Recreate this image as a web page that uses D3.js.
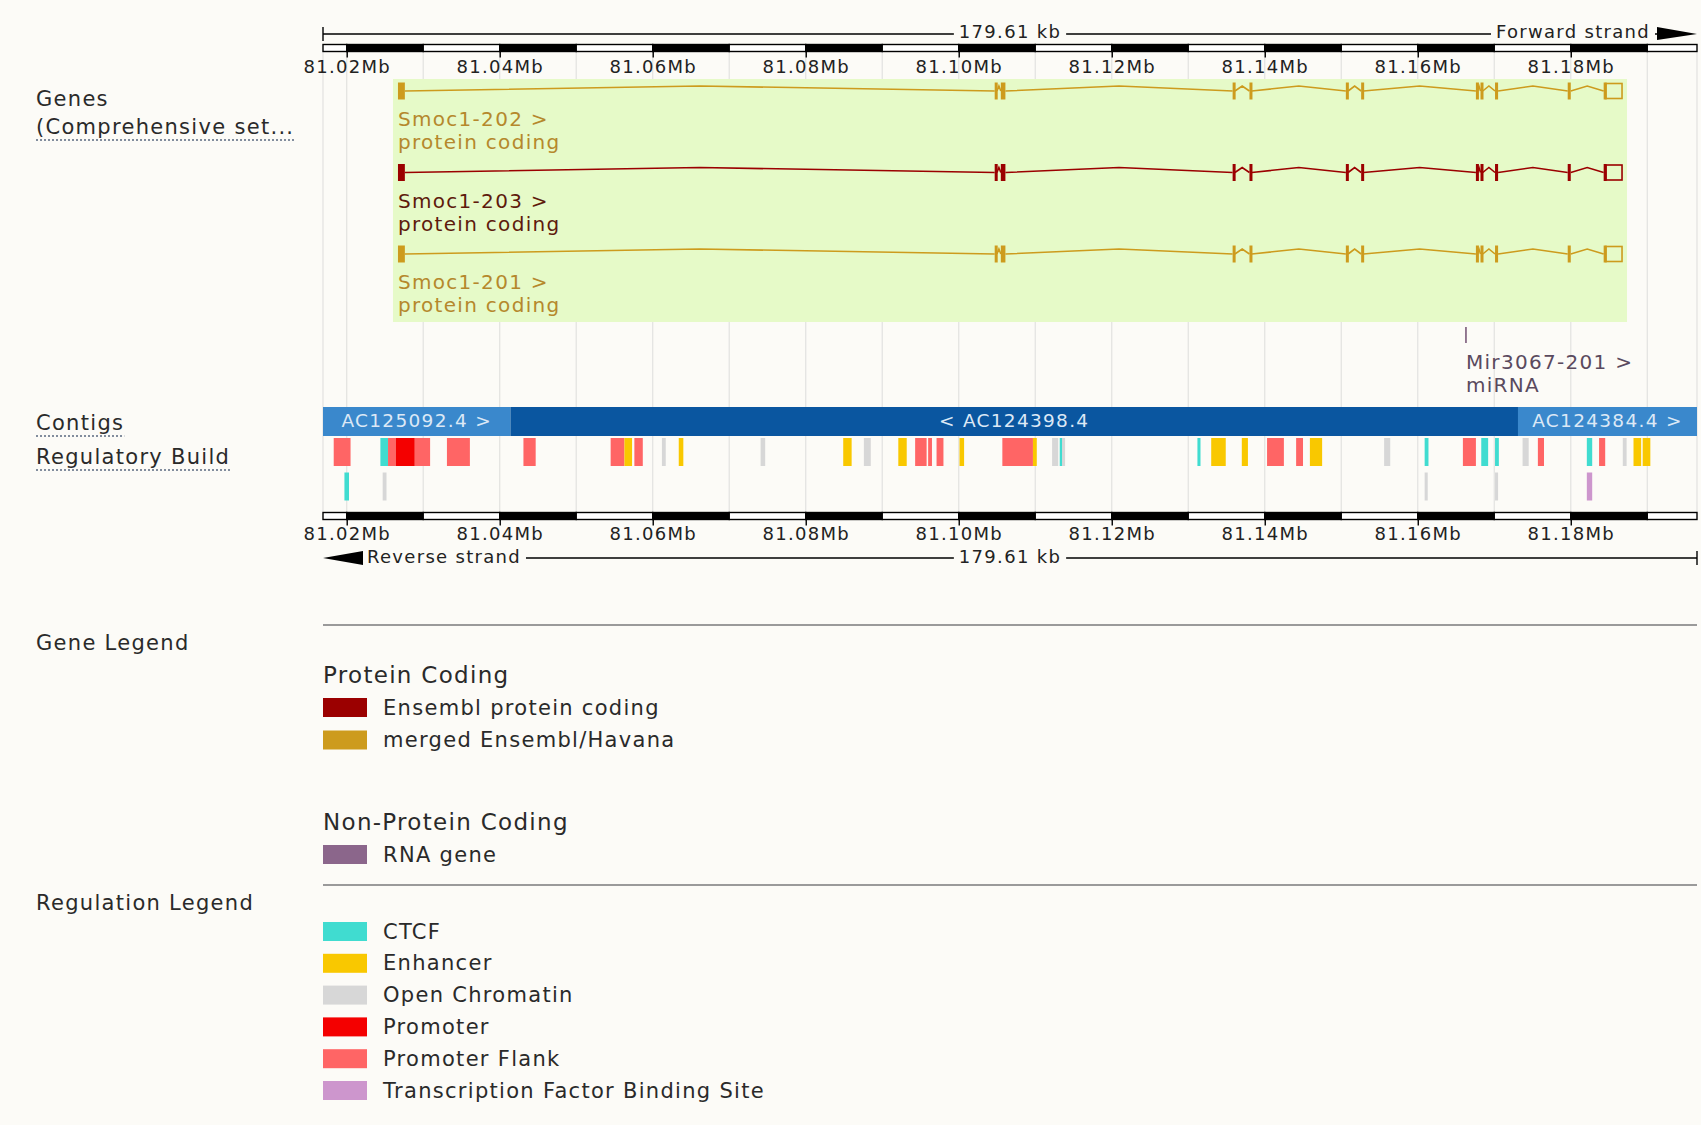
<!DOCTYPE html>
<html>
<head>
<meta charset="utf-8">
<title>Smoc1 region view</title>
<script src="https://cdn.jsdelivr.net/npm/d3@7"></script>
<style>
body{margin:0;background:#fcfbf7;}
svg{display:block;font-family:"DejaVu Sans",Verdana,sans-serif;}
text{letter-spacing:1.3px;}
</style>
</head>
<body>
<div id="chart"></div>
<script>
var W=1701,H=1125;

// region shown (Mb) and ruler ticks
var regionStart=81.0169, regionEnd=81.1965;
var tickMb=[81.02,81.04,81.06,81.08,81.10,81.12,81.14,81.16,81.18];
var lengthLabel="179.61 kb";

// transcripts (all three share the same exon layout)
var transcriptNames=["Smoc1-202","Smoc1-203","Smoc1-201"];
var transcriptBiotype=["protein coding","protein coding","protein coding"];
var transcriptSource=["merged","ensembl","merged"];
var codingExons=[[81.0267,81.0276],[81.1047,81.1050],[81.1055,81.1061],[81.1358,81.1361],
  [81.1380,81.1383],[81.1506,81.1509],[81.1526,81.1529],[81.1676,81.1678],[81.1682,81.1685],
  [81.1701,81.1705],[81.1796,81.1800],[81.1843,81.1846]];
var utrExons=[[81.1846,81.1867]];

var rnaGeneName="Mir3067-201 >", rnaGeneType="miRNA", rnaGeneMb=81.1663;

// contigs
var contigNames=["AC125092.4 >","< AC124398.4","AC124384.4 >"];
var contigStart=[81.0169,81.0414,81.1731];
var contigEnd=[81.0414,81.1731,81.1965];

// regulatory build, [start, end, type]
var regRow1=[
  [81.0183,81.0205,"Promoter Flank"],[81.0244,81.0254,"CTCF"],[81.0254,81.0264,"Promoter Flank"],
  [81.0264,81.0289,"Promoter"],[81.0289,81.0309,"Promoter Flank"],[81.0331,81.0361,"Promoter Flank"],
  [81.0431,81.0447,"Promoter Flank"],[81.0545,81.0563,"Promoter Flank"],[81.0563,81.0573,"Enhancer"],
  [81.0576,81.0587,"Promoter Flank"],[81.0612,81.0617,"Open Chromatin"],[81.0634,81.0640,"Enhancer"],
  [81.0741,81.0747,"Open Chromatin"],[81.0849,81.0860,"Enhancer"],[81.0876,81.0885,"Open Chromatin"],
  [81.0921,81.0932,"Enhancer"],[81.0943,81.0958,"Promoter Flank"],[81.0960,81.0965,"Promoter Flank"],
  [81.0971,81.0980,"Promoter Flank"],[81.1001,81.1007,"Enhancer"],[81.1057,81.1097,"Promoter Flank"],
  [81.1097,81.1102,"Enhancer"],[81.1122,81.1130,"Open Chromatin"],[81.1132,81.1134,"CTCF"],
  [81.1135,81.1139,"Open Chromatin"],[81.1312,81.1316,"CTCF"],[81.1330,81.1349,"Enhancer"],
  [81.1370,81.1378,"Enhancer"],[81.1403,81.1425,"Promoter Flank"],[81.1441,81.1450,"Promoter Flank"],
  [81.1459,81.1475,"Enhancer"],[81.1556,81.1564,"Open Chromatin"],[81.1609,81.1614,"CTCF"],
  [81.1659,81.1676,"Promoter Flank"],[81.1683,81.1692,"CTCF"],[81.1701,81.1706,"CTCF"],
  [81.1737,81.1745,"Open Chromatin"],[81.1757,81.1765,"Promoter Flank"],[81.1821,81.1828,"CTCF"],
  [81.1837,81.1845,"Promoter Flank"],[81.1868,81.1873,"Open Chromatin"],[81.1882,81.1892,"Enhancer"],
  [81.1894,81.1904,"Enhancer"]
];
var regRow2=[
  [81.0197,81.0203,"CTCF"],[81.0247,81.0252,"Open Chromatin"],[81.1609,81.1613,"Open Chromatin"],
  [81.1701,81.1705,"Open Chromatin"],[81.1821,81.1828,"Transcription Factor Binding Site"]
];

// legends
var proteinLegend=["Ensembl protein coding","merged Ensembl/Havana"];
var proteinLegendColor=["#9b0000","#cd9b1d"];
var nonProteinLegend=["RNA gene"];
var nonProteinLegendColor=["#8b668b"];
var regTypes=["CTCF","Enhancer","Open Chromatin","Promoter","Promoter Flank","Transcription Factor Binding Site"];
var regColors=["#40dcd0","#f9c800","#d7d7d7","#f40000","#ff6565","#cd96cd"];

var sourceColor={merged:"#cd9b1d",ensembl:"#9b0000"};
var labelColor={merged:"#b5882c",ensembl:"#5e1a0c"};
var regColor=d3.scaleOrdinal().domain(regTypes).range(regColors);

var bg="#fcfbf7", left=323, right=1697;

var x=d3.scaleLinear().domain([regionStart,regionEnd]).range([left,right]);

var svg=d3.select('#chart').append('svg')
  .attr('width',W).attr('height',H);
svg.append('rect').attr('width',W).attr('height',H).attr('fill',bg);

// helper: text with a background knock-out
function gapText(g,tx,ty,str,anchor,size){
  var t=g.append('text').attr('x',tx).attr('y',ty).attr('text-anchor',anchor)
    .attr('dominant-baseline','central').attr('font-size',size).attr('fill','#222').text(str);
  var b=t.node().getBBox();
  g.insert('rect','text').attr('x',b.x-5).attr('y',b.y).attr('width',b.width+10)
    .attr('height',b.height).attr('fill',bg);
  return t;
}

// grid
var minor=d3.ticks(regionStart,regionEnd,18);
svg.append('g').selectAll('line').data(minor.concat([regionStart,regionEnd])).enter()
  .append('line')
  .attr('x1',function(d){return x(d);}).attr('x2',function(d){return x(d);})
  .attr('y1',52).attr('y2',512)
  .attr('stroke','#e2e2e0').attr('stroke-width',1.2);

// ruler bar
function ruler(y0,labelY){
  var g=svg.append('g');
  var bounds=[regionStart].concat(minor).concat([regionEnd]);
  for(var i=0;i<bounds.length-1;i++){
    var a=bounds[i],b=bounds[i+1];
    var black=(Math.round(a*100)%2===0)&&a>regionStart;
    g.append('rect').attr('x',x(a)).attr('y',y0).attr('width',x(b)-x(a)).attr('height',7)
      .attr('fill',black?'#000':'#fff').attr('stroke','#000').attr('stroke-width',1.4);
  }
  var ax=d3.axisBottom(x).tickValues(tickMb).tickSize(6).tickSizeOuter(0)
    .tickFormat(function(d){return d.toFixed(2)+'Mb';});
  var ag=svg.append('g').attr('transform','translate(0,'+(y0+7)+')').call(ax);
  ag.select('.domain').remove();
  ag.selectAll('.tick line').attr('stroke','#000').attr('stroke-width',1.4);
  ag.selectAll('.tick text').attr('y',labelY-(y0+7)).attr('dy',null)
    .attr('dominant-baseline','central')
    .attr('font-family','"DejaVu Sans",Verdana,sans-serif').attr('font-size',18).attr('fill','#222');
}
ruler(44.5,66);
ruler(512.5,533);

// top scale line
var topG=svg.append('g');
topG.append('line').attr('x1',left).attr('x2',right-40).attr('y1',34).attr('y2',34).attr('stroke','#000').attr('stroke-width',1.4);
topG.append('line').attr('x1',left).attr('x2',left).attr('y1',27).attr('y2',41).attr('stroke','#000').attr('stroke-width',1.4);
gapText(topG,(left+right)/2,31,lengthLabel,'middle',18);
gapText(topG,right-47,31,'Forward strand','end',18);
topG.append('path').attr('d','M'+(right-40)+',27 L'+right+',34 L'+(right-40)+',40 Z').attr('fill','#000');

// bottom scale line
var botG=svg.append('g');
botG.append('line').attr('x1',left+40).attr('x2',right).attr('y1',558).attr('y2',558).attr('stroke','#000').attr('stroke-width',1.4);
botG.append('line').attr('x1',right).attr('x2',right).attr('y1',551).attr('y2',565).attr('stroke','#000').attr('stroke-width',1.4);
gapText(botG,(left+right)/2,556,lengthLabel,'middle',18);
gapText(botG,left+44,556,'Reverse strand','start',18);
botG.append('path').attr('d','M'+left+',558 L'+(left+40)+',551 L'+(left+40)+',565 Z').attr('fill','#000');

// gene highlight box
var gStart=d3.min(codingExons.concat(utrExons),function(d){return d[0];});
var gEnd=d3.max(codingExons.concat(utrExons),function(d){return d[1];});
svg.append('rect').attr('x',x(gStart)-5).attr('y',79).attr('width',x(gEnd)-x(gStart)+10).attr('height',243)
  .attr('fill','#e6fac8');

// transcripts
var trY=[91,172.5,254];
var allExons=codingExons.concat(utrExons).sort(function(a,b){return a[0]-b[0];});
transcriptNames.forEach(function(name,i){
  var g=svg.append('g');
  var y=trY[i], col=sourceColor[transcriptSource[i]];
  var d='';
  for(var k=0;k<allExons.length-1;k++){
    var a=x(allExons[k][1]), b=x(allExons[k+1][0]);
    if(b-a<1) continue;
    d+='M'+a+','+y+' L'+((a+b)/2)+','+(y-5)+' L'+b+','+y+' ';
  }
  g.append('path').attr('d',d).attr('fill','none').attr('stroke',col).attr('stroke-width',1.6);
  g.selectAll('rect.cds').data(codingExons).enter().append('rect')
    .attr('x',function(e){return x(e[0]);})
    .attr('width',function(e){return Math.max(3,x(e[1])-x(e[0]));})
    .attr('y',y-8.5).attr('height',17).attr('fill',col);
  g.selectAll('rect.utr').data(utrExons).enter().append('rect')
    .attr('x',function(e){return x(e[0]);})
    .attr('width',function(e){return x(e[1])-x(e[0]);})
    .attr('y',y-7.5).attr('height',15).attr('fill','none').attr('stroke',col).attr('stroke-width',1.6);
  g.append('text').attr('x',x(gStart)).attr('y',y+28).attr('dominant-baseline','central')
    .attr('font-size',20).attr('fill',labelColor[transcriptSource[i]]).text(name+' >');
  g.append('text').attr('x',x(gStart)).attr('y',y+51).attr('dominant-baseline','central')
    .attr('font-size',20).attr('fill',labelColor[transcriptSource[i]]).text(transcriptBiotype[i]);
});

// miRNA
svg.append('line').attr('x1',x(rnaGeneMb)).attr('x2',x(rnaGeneMb)).attr('y1',327).attr('y2',343)
  .attr('stroke','#7a5a7a').attr('stroke-width',1.6);
svg.append('text').attr('x',x(rnaGeneMb)).attr('y',362).attr('dominant-baseline','central')
  .attr('font-size',20).attr('fill','#5a4a5e').text(rnaGeneName);
svg.append('text').attr('x',x(rnaGeneMb)).attr('y',385).attr('dominant-baseline','central')
  .attr('font-size',20).attr('fill','#5a4a5e').text(rnaGeneType);

// contigs
var cg=svg.append('g');
contigNames.forEach(function(n,i){
  cg.append('rect').attr('x',x(contigStart[i])).attr('y',407).attr('width',x(contigEnd[i])-x(contigStart[i]))
    .attr('height',29).attr('fill',i%2===0?'#3a88cc':'#0a56a0');
  cg.append('text').attr('x',(x(contigStart[i])+x(contigEnd[i]))/2).attr('y',420).attr('text-anchor','middle')
    .attr('dominant-baseline','central').attr('font-size',18.5).attr('fill','#dce8f6').text(n);
});

// regulatory build
function regRow(data,y){
  svg.append('g').selectAll('rect').data(data).enter().append('rect')
    .attr('x',function(d){return x(d[0]);})
    .attr('width',function(d){return Math.max(3,x(d[1])-x(d[0]));})
    .attr('y',y).attr('height',28)
    .attr('fill',function(d){return regColor(d[2]);});
}
regRow(regRow1,438);
regRow(regRow2,472.5);

// left track labels
function sideLabel(str,y,dotted){
  var t=svg.append('text').attr('x',36).attr('y',y).attr('dominant-baseline','central')
    .attr('font-size',21).attr('fill','#2a2a2a').text(str);
  if(dotted){
    var b=t.node().getBBox();
    svg.append('line').attr('x1',b.x).attr('x2',b.x+b.width).attr('y1',b.y+b.height+1).attr('y2',b.y+b.height+1)
      .attr('stroke','#5a6a80').attr('stroke-width',1.5).attr('stroke-dasharray','2,2');
  }
}
sideLabel('Genes',99,false);
sideLabel('(Comprehensive set...',127,true);
sideLabel('Contigs',423,true);
sideLabel('Regulatory Build',457,true);
sideLabel('Gene Legend',643,false);
sideLabel('Regulation Legend',903,false);

// legends
svg.append('line').attr('x1',left).attr('x2',right).attr('y1',625).attr('y2',625).attr('stroke','#9a9a9a').attr('stroke-width',2);
svg.append('line').attr('x1',left).attr('x2',right).attr('y1',885).attr('y2',885).attr('stroke','#9a9a9a').attr('stroke-width',2);

function heading(str,y){
  svg.append('text').attr('x',left).attr('y',y).attr('dominant-baseline','central')
    .attr('font-size',23).attr('fill','#2a2a2a').text(str);
}
function legendItems(names,colors,y0,step){
  var g=svg.append('g').selectAll('g').data(names).enter().append('g')
    .attr('transform',function(d,i){return 'translate('+left+','+(y0+i*step)+')';});
  g.append('rect').attr('x',0).attr('y',-9.5).attr('width',44).attr('height',19)
    .attr('fill',function(d,i){return colors[i];});
  g.append('text').attr('x',60).attr('y',0).attr('dominant-baseline','central')
    .attr('font-size',21).attr('fill','#2a2a2a').text(function(d){return d;});
}
heading('Protein Coding',675);
legendItems(proteinLegend,proteinLegendColor,707.5,32.5);
heading('Non-Protein Coding',822);
legendItems(nonProteinLegend,nonProteinLegendColor,854.5,32.5);
legendItems(regTypes,regColors,931.5,31.8);
</script>
</body>
</html>
